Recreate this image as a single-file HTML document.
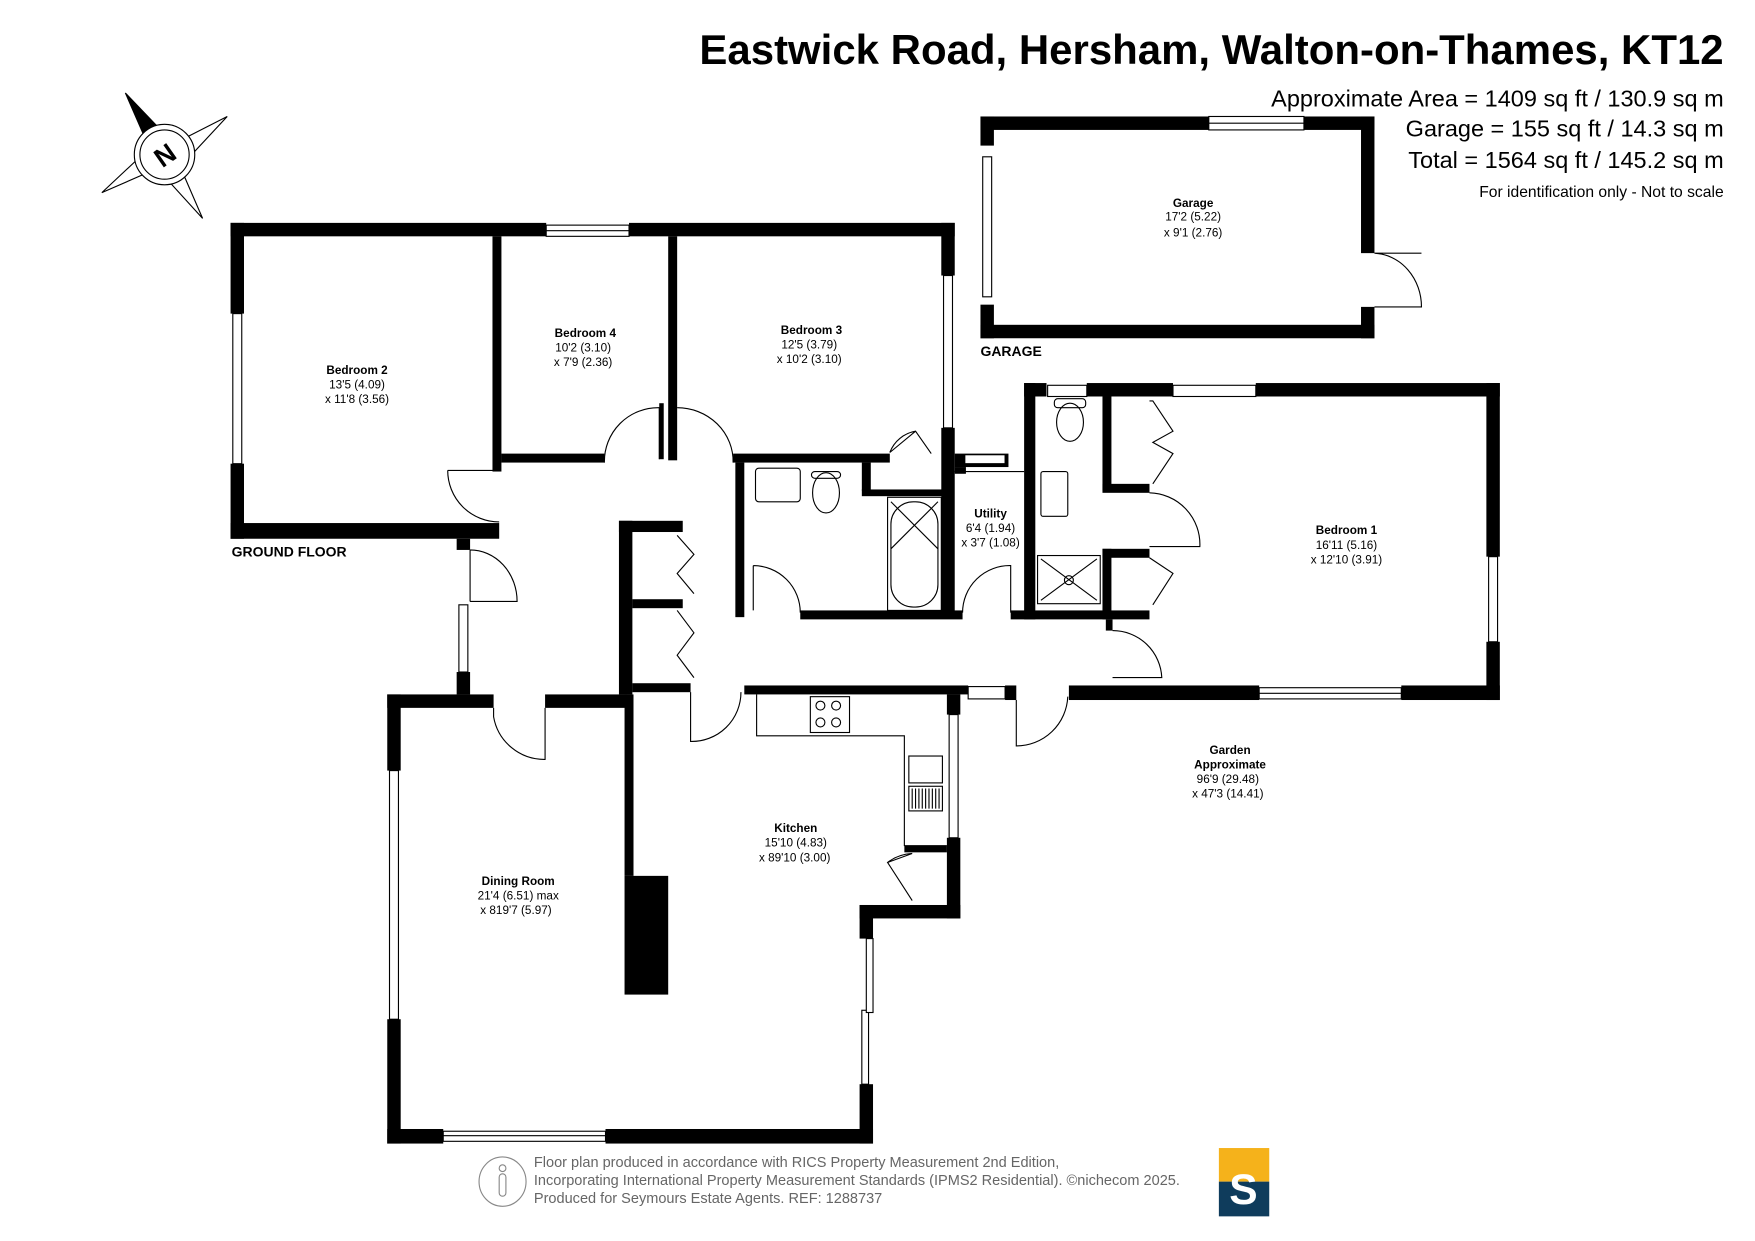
<!DOCTYPE html>
<html><head><meta charset="utf-8"><style>
html,body{margin:0;padding:0;background:#fff;}
svg{display:block;}
text{font-family:"Liberation Sans",sans-serif;fill:#000;}
</style></head><body>
<svg width="1755" height="1241" viewBox="0 0 1568 1108" preserveAspectRatio="none" xmlns="http://www.w3.org/2000/svg">
<rect width="1568" height="1108" fill="#fff"/>
<!-- Title -->
<text x="1540" y="57" text-anchor="end" font-size="37.5" font-weight="bold">Eastwick Road, Hersham, Walton-on-Thames, KT12</text>
<text x="1540" y="95" text-anchor="end" font-size="21">Approximate Area = 1409 sq ft / 130.9 sq m</text>
<text x="1540" y="122" text-anchor="end" font-size="21">Garage = 155 sq ft / 14.3 sq m</text>
<text x="1540" y="150" text-anchor="end" font-size="21">Total = 1564 sq ft / 145.2 sq m</text>
<text x="1540" y="176" text-anchor="end" font-size="14">For identification only - Not to scale</text>

<!-- Compass -->
<g stroke="#000" stroke-width="1" fill="#fff">
<polygon points="203,104 152,130 162,148"/>
<polygon points="181,195 140,150 158,142"/>
<polygon points="91,172 138,128 146,148"/>
<polygon points="112,83 157,130 136,138" fill="#000"/>
<circle cx="147" cy="138" r="27"/>
<circle cx="147" cy="138" r="22"/>
</g>
<text x="147" y="147" text-anchor="middle" font-size="24" font-weight="bold" transform="rotate(-35 147 138)">N</text>

<g fill="#000">
<!-- Garage -->
<rect x="876" y="104" width="204" height="12"/>
<rect x="1165" y="104" width="63" height="12"/>
<rect x="876" y="104" width="12" height="26"/>
<rect x="876" y="272" width="12" height="30"/>
<rect x="1216" y="104" width="12" height="122"/>
<rect x="876" y="290" width="352" height="12"/>
<rect x="1216" y="274" width="12" height="28"/>

<!-- Bedrooms top block -->
<rect x="206" y="199" width="282" height="12"/>
<rect x="562" y="199" width="291" height="12"/>
<rect x="206" y="199" width="12" height="81"/>
<rect x="206" y="414" width="12" height="67"/>
<rect x="206" y="467" width="240" height="14"/>
<rect x="440" y="211" width="8" height="210"/>
<rect x="448" y="405" width="92" height="8"/>
<rect x="597" y="211" width="8" height="200"/>
<rect x="589" y="360" width="4" height="50"/>
<rect x="655" y="405" width="140" height="8"/>
<rect x="841" y="199" width="12" height="47"/>
<rect x="841" y="382" width="12" height="170"/>
<rect x="408" y="481" width="12" height="10"/>

<!-- bathroom -->
<rect x="657" y="413" width="8" height="138"/>
<rect x="715" y="545" width="145" height="8"/>
<rect x="770" y="413" width="8" height="25"/>
<rect x="770" y="437" width="72" height="6"/>
<rect x="853" y="405" width="48" height="12"/>
<rect x="853" y="417" width="10" height="6"/>
<rect x="903" y="545" width="85" height="8"/>
<rect x="915" y="342" width="10" height="211"/>
<rect x="915" y="342" width="20" height="12"/>
<rect x="971" y="342" width="77" height="12"/>
<rect x="1122" y="342" width="218" height="12"/>
<rect x="985" y="354" width="8" height="84"/>
<rect x="985" y="432" width="42" height="8"/>
<rect x="985" y="490" width="42" height="8"/>
<rect x="985" y="490" width="8" height="60"/>
<rect x="985" y="545" width="42" height="8"/>
<rect x="988" y="553" width="6" height="10"/>
<rect x="1328" y="342" width="12" height="155"/>
<rect x="1328" y="573" width="12" height="52"/>
<rect x="955" y="612" width="170" height="13"/>
<rect x="1252" y="612" width="88" height="13"/>

<!-- hall / closets -->
<rect x="408" y="600" width="12" height="20"/>
<rect x="553" y="465" width="12" height="155"/>
<rect x="553" y="465" width="57" height="10"/>
<rect x="565" y="535" width="45" height="8"/>
<rect x="565" y="610" width="52" height="8"/>
<rect x="665" y="612" width="200" height="8"/>
<rect x="898" y="612" width="10" height="13"/>

<!-- dining room -->
<rect x="346" y="620" width="95" height="12"/>
<rect x="487" y="620" width="73" height="12"/>
<rect x="346" y="620" width="12" height="68"/>
<rect x="346" y="910" width="12" height="111"/>
<rect x="346" y="1008" width="50" height="13"/>
<rect x="541" y="1008" width="239" height="13"/>
<rect x="768" y="968" width="12" height="53"/>
<rect x="558" y="620" width="8" height="162"/>
<rect x="558" y="782" width="39" height="106"/>
<rect x="768" y="808" width="12" height="30"/>
<rect x="768" y="808" width="90" height="12"/>
<rect x="846" y="620" width="12" height="18"/>
<rect x="846" y="748" width="12" height="72"/>
<rect x="808" y="755" width="38" height="6"/>
</g>

<!-- windows -->
<g fill="#fff" stroke="#000" stroke-width="1">
<rect x="1080" y="104" width="85" height="12"/><line x1="1080" y1="110" x2="1165" y2="110"/>
<rect x="878" y="140" width="8" height="125"/>
<rect x="488" y="201" width="74" height="10"/><line x1="488" y1="206" x2="562" y2="206"/>
<rect x="208" y="280" width="8" height="134"/>
<rect x="843" y="246" width="8" height="136"/>
<rect x="936" y="344" width="35" height="10"/>
<rect x="1048" y="344" width="74" height="10"/>
<rect x="1330" y="497" width="8" height="76"/>
<rect x="1125" y="614" width="127" height="10"/><line x1="1125" y1="619" x2="1252" y2="619"/>
<rect x="865" y="613" width="33" height="11"/>
<rect x="862" y="406" width="36" height="8"/>
<rect x="410" y="540" width="8" height="60"/>
<rect x="348" y="688" width="8" height="222"/>
<rect x="396" y="1010" width="145" height="9"/><line x1="396" y1="1014" x2="541" y2="1014"/>
<rect x="770" y="902" width="6" height="66"/>
<rect x="774" y="838" width="6" height="66"/>
<rect x="848" y="638" width="8" height="110"/>
</g>

<!-- doors -->
<g fill="none" stroke="#000" stroke-width="1">
<path d="M1228 226 L1270 226 M1228 226 A44 48 0 0 1 1270 274 L1228 274"/>
<path d="M400 420 L445 420 M400 420 A46 46 0 0 0 446 466"/>
<path d="M420 491 L420 537 M420 491 A42 46 0 0 1 462 537 L420 537"/>
<path d="M540 413 A48 48 0 0 1 589 364 L589 410"/>
<path d="M605 364 A50 48 0 0 1 655 413"/>
<path d="M795 404 L818 385 L832 405 M795 404 A30 30 0 0 1 818 385"/>
<path d="M673 505 L673 545 M673 505 A42 42 0 0 1 715 547"/>
<path d="M860 547 A42 42 0 0 1 903 505 L903 547"/>
<path d="M1027 440 A46 46 0 0 1 1072 488 L1027 488"/>
<path d="M994 563 A44 44 0 0 1 1038 605 L994 605"/>
<path d="M441 632 L441 640 A46 46 0 0 0 487 678 L487 632"/>
<path d="M617 618 L617 662 A44 44 0 0 0 662 618"/>
<path d="M908 625 L908 666 A46 46 0 0 0 954 622"/>
<path d="M815 762 L793 770 L815 804 M793 770 A40 40 0 0 1 815 762"/>
<path d="M1027 358 L1030 358 L1048 385 L1030 395 L1048 405 L1030 432"/>
<path d="M1027 498 L1048 512 L1030 540"/>
<path d="M605 478 L620 495 L605 512 L620 530"/>
<path d="M605 545 L620 565 L605 585 L620 605"/>
<!-- bath fixtures -->
<rect x="675" y="418" width="40" height="30" rx="3"/>
<ellipse cx="738" cy="440" rx="12" ry="18"/>
<rect x="725" y="421" width="26" height="6" rx="3"/>
<rect x="793" y="444" width="48" height="101"/>
<rect x="796" y="448" width="42" height="94" rx="20"/>
<path d="M796 448 L838 490 M838 448 L796 490"/>
<line x1="853" y1="421" x2="915" y2="421"/>
<rect x="930" y="421" width="24" height="40" rx="2"/>
<ellipse cx="956" cy="377" rx="12" ry="17"/>
<rect x="942" y="356" width="28" height="8" rx="3"/>
<rect x="927" y="496" width="56" height="43"/>
<path d="M930 499 L980 536 M980 499 L930 536"/>
<circle cx="955" cy="518" r="4"/>
<!-- kitchen -->
<path d="M676 620 L676 657 L808 657 L808 755 L846 755"/>
<rect x="724" y="622" width="35" height="32"/>
<circle cx="733" cy="630" r="4"/><circle cx="747" cy="630" r="4"/>
<circle cx="733" cy="645" r="4"/><circle cx="747" cy="645" r="4"/>
<rect x="812" y="675" width="30" height="24"/>
<rect x="812" y="702" width="30" height="22"/>
</g>
<g stroke="#000" stroke-width="1">
<path d="M815 704 V722 M818 704 V722 M821 704 V722 M824 704 V722 M827 704 V722 M830 704 V722 M833 704 V722 M836 704 V722 M839 704 V722"/>
</g>

<!-- labels -->
<g font-size="10.5" text-anchor="middle">
<text x="1066" y="185" font-weight="bold">Garage</text>
<text x="1066" y="197">17'2 (5.22)</text>
<text x="1066" y="211">x 9'1 (2.76)</text>
<text x="319" y="334" font-weight="bold">Bedroom 2</text>
<text x="319" y="347">13'5 (4.09)</text>
<text x="319" y="360">x 11'8 (3.56)</text>
<text x="523" y="301" font-weight="bold">Bedroom 4</text>
<text x="521" y="314">10'2 (3.10)</text>
<text x="521" y="327">x 7'9 (2.36)</text>
<text x="725" y="298" font-weight="bold">Bedroom 3</text>
<text x="723" y="311">12'5 (3.79)</text>
<text x="723" y="324">x 10'2 (3.10)</text>
<text x="885" y="462" font-weight="bold">Utility</text>
<text x="885" y="475">6'4 (1.94)</text>
<text x="885" y="488">x 3'7 (1.08)</text>
<text x="1203" y="477" font-weight="bold">Bedroom 1</text>
<text x="1203" y="490">16'11 (5.16)</text>
<text x="1203" y="503">x 12'10 (3.91)</text>
<text x="1099" y="673" font-weight="bold">Garden</text>
<text x="1099" y="686" font-weight="bold">Approximate</text>
<text x="1097" y="699">96'9 (29.48)</text>
<text x="1097" y="712">x 47'3 (14.41)</text>
<text x="711" y="743" font-weight="bold">Kitchen</text>
<text x="711" y="756">15'10 (4.83)</text>
<text x="710" y="769">x 89'10 (3.00)</text>
<text x="463" y="790" font-weight="bold">Dining Room</text>
<text x="463" y="803">21'4 (6.51) max</text>
<text x="461" y="816">x 819'7 (5.97)</text>
</g>
<text x="876" y="318" font-size="12.5" font-weight="bold">GARAGE</text>
<text x="207" y="497" font-size="12.5" font-weight="bold">GROUND FLOOR</text>

<!-- footer -->
<g fill="none" stroke="#888" stroke-width="1">
<ellipse cx="449" cy="1055" rx="21" ry="22"/>
<circle cx="449" cy="1043" r="3"/>
<rect x="446" y="1048" width="6" height="20" rx="3"/>
</g>
<g font-size="13">
<text x="477" y="1042" style="fill:#666">Floor plan produced in accordance with RICS Property Measurement 2nd Edition,</text>
<text x="477" y="1058" style="fill:#666">Incorporating International Property Measurement Standards (IPMS2 Residential).   ©nichecom 2025.</text>
<text x="477" y="1074" style="fill:#666">Produced for Seymours Estate Agents.   REF: 1288737</text>
</g>
<rect x="1089" y="1025" width="45" height="30" fill="#f5b21b"/>
<rect x="1089" y="1055" width="45" height="31" fill="#0f3c5c"/>
<text x="1111" y="1075" text-anchor="middle" font-size="38" font-weight="bold" style="fill:#fff">S</text>
</svg>
</body></html>
